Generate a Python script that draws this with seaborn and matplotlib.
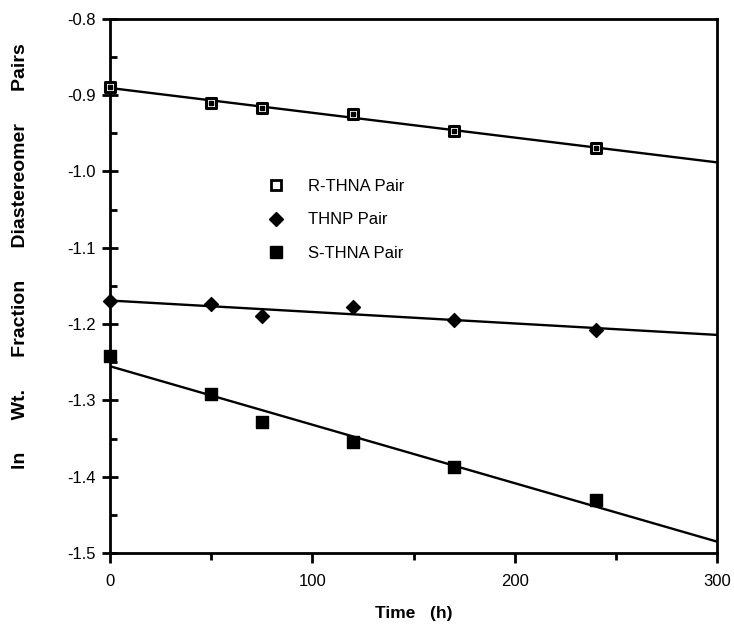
import numpy as np
import pandas as pd
import matplotlib
matplotlib.use('Agg')
import matplotlib.pyplot as plt
from matplotlib.lines import Line2D
from matplotlib.ticker import MultipleLocator, FormatStrFormatter
import seaborn as sns

# Data
time_h = [0, 50, 75, 120, 170, 240]
r_thna = [-0.889, -0.910, -0.917, -0.925, -0.947, -0.969]
thnp = [-1.170, -1.174, -1.189, -1.178, -1.194, -1.208]
s_thna = [-1.242, -1.292, -1.328, -1.354, -1.387, -1.430]
labels = ['R-THNA Pair', 'THNP Pair', 'S-THNA Pair']

df = pd.DataFrame({'Time': time_h, 'R': r_thna, 'THNP': thnp, 'S': s_thna})

sns.set_style('ticks', {'text.color': 'black', 'axes.labelcolor': 'black',
                        'xtick.color': 'black', 'ytick.color': 'black',
                        'axes.edgecolor': 'black'})
plt.rcParams['font.family'] = ['Liberation Sans', 'DejaVu Sans']

fig = plt.figure(figsize=(7.34, 6.25), dpi=100)
ax = fig.add_axes([0.150, 0.115, 0.827, 0.855])
ax.set_xlim(0, 300)
ax.set_ylim(-1.5, -0.8)

line_kws = {'color': 'black', 'lw': 1.7}

# R-THNA: open squares with a dot in the middle
sns.regplot(x='Time', y='R', data=df, ax=ax, ci=None, truncate=False,
            marker='s', line_kws=line_kws,
            scatter_kws={'s': 55, 'facecolor': 'white', 'edgecolor': 'black',
                         'linewidths': 2.2, 'alpha': 1, 'zorder': 3,
                         'clip_on': False})
ax.scatter(df['Time'], df['R'], s=5, color='black', marker='s', zorder=4,
           clip_on=False)

# THNP: filled diamonds
sns.regplot(x='Time', y='THNP', data=df, ax=ax, ci=None, truncate=False,
            marker='D', line_kws=line_kws,
            scatter_kws={'s': 50, 'color': 'black', 'alpha': 1, 'zorder': 3,
                         'clip_on': False})

# S-THNA: filled squares
sns.regplot(x='Time', y='S', data=df, ax=ax, ci=None, truncate=False,
            marker='s', line_kws=line_kws,
            scatter_kws={'s': 70, 'color': 'black', 'alpha': 1, 'zorder': 3,
                         'clip_on': False})

ax.set_xlim(0, 300)
ax.set_ylim(-1.5, -0.8)

ax.xaxis.set_major_locator(MultipleLocator(100))
ax.xaxis.set_minor_locator(MultipleLocator(50))
ax.yaxis.set_major_locator(MultipleLocator(0.1))
ax.yaxis.set_minor_locator(MultipleLocator(0.05))
ax.yaxis.set_major_formatter(FormatStrFormatter('%.1f'))

ax.tick_params(axis='x', which='major', direction='out', length=7, width=2,
               labelsize=12, pad=8)
ax.tick_params(axis='x', which='minor', direction='out', length=5, width=2)
ax.tick_params(axis='y', which='major', direction='inout', length=12, width=2,
               labelsize=12, pad=4)
ax.tick_params(axis='y', which='minor', direction='in', length=5, width=2)

for side in ['left', 'right', 'top', 'bottom']:
    ax.spines[side].set_visible(True)
    ax.spines[side].set_linewidth(2)
    ax.spines[side].set_color('black')

ax.set_xlabel('Time   (h)', fontsize=12.5, fontweight='bold', labelpad=12)
ax.set_ylabel('ln      Wt.      Fraction      Diastereomer      Pairs',
              fontsize=14, fontweight='bold')
ax.yaxis.set_label_coords(-0.133, 0.555)

handles = [
    Line2D([], [], ls='none', marker='s', ms=7, mfc='white', mec='black', mew=2),
    Line2D([], [], ls='none', marker='D', ms=7, mfc='black', mec='black'),
    Line2D([], [], ls='none', marker='s', ms=8, mfc='black', mec='black'),
]
ax.legend(handles, labels, loc='upper left', bbox_to_anchor=(0.26, 0.70),
          frameon=False, fontsize=12, handlelength=1.0, handletextpad=1.4,
          labelspacing=1.1, borderpad=0, borderaxespad=0)

fig.savefig('out.png', dpi=100)
